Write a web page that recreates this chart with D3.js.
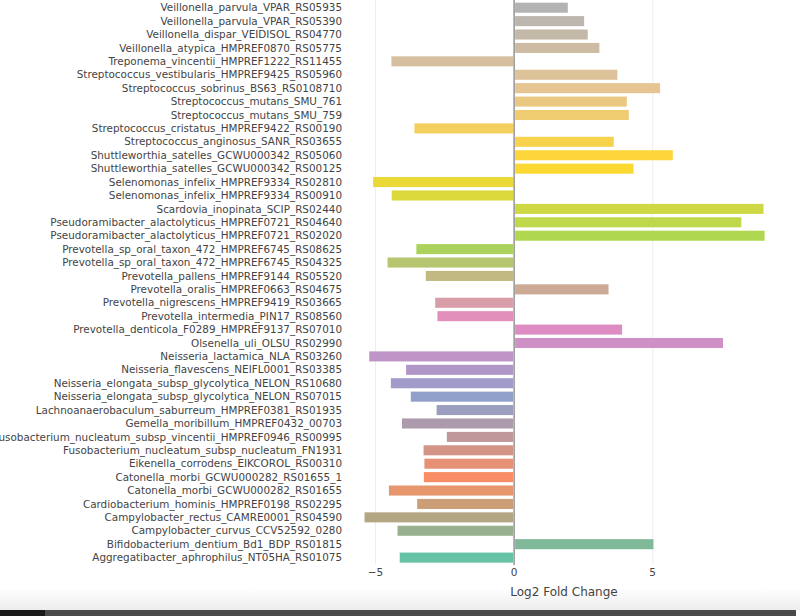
<!DOCTYPE html>
<html>
<head>
<meta charset="utf-8">
<script src="https://cdn.jsdelivr.net/npm/d3@7"></script>
<style>
  html, body { margin: 0; padding: 0; background: #fff; }
  svg { display: block; }
</style>
</head>
<body>
<svg id="chart" width="800" height="616"></svg>
<script>
// Categories listed top to bottom
const categories = [
  "Veillonella_parvula_VPAR_RS05935",
  "Veillonella_parvula_VPAR_RS05390",
  "Veillonella_dispar_VEIDISOL_RS04770",
  "Veillonella_atypica_HMPREF0870_RS05775",
  "Treponema_vincentii_HMPREF1222_RS11455",
  "Streptococcus_vestibularis_HMPREF9425_RS05960",
  "Streptococcus_sobrinus_BS63_RS0108710",
  "Streptococcus_mutans_SMU_761",
  "Streptococcus_mutans_SMU_759",
  "Streptococcus_cristatus_HMPREF9422_RS00190",
  "Streptococcus_anginosus_SANR_RS03655",
  "Shuttleworthia_satelles_GCWU000342_RS05060",
  "Shuttleworthia_satelles_GCWU000342_RS00125",
  "Selenomonas_infelix_HMPREF9334_RS02810",
  "Selenomonas_infelix_HMPREF9334_RS00910",
  "Scardovia_inopinata_SCIP_RS02440",
  "Pseudoramibacter_alactolyticus_HMPREF0721_RS04640",
  "Pseudoramibacter_alactolyticus_HMPREF0721_RS02020",
  "Prevotella_sp_oral_taxon_472_HMPREF6745_RS08625",
  "Prevotella_sp_oral_taxon_472_HMPREF6745_RS04325",
  "Prevotella_pallens_HMPREF9144_RS05520",
  "Prevotella_oralis_HMPREF0663_RS04675",
  "Prevotella_nigrescens_HMPREF9419_RS03665",
  "Prevotella_intermedia_PIN17_RS08560",
  "Prevotella_denticola_F0289_HMPREF9137_RS07010",
  "Olsenella_uli_OLSU_RS02990",
  "Neisseria_lactamica_NLA_RS03260",
  "Neisseria_flavescens_NEIFL0001_RS03385",
  "Neisseria_elongata_subsp_glycolytica_NELON_RS10680",
  "Neisseria_elongata_subsp_glycolytica_NELON_RS07015",
  "Lachnoanaerobaculum_saburreum_HMPREF0381_RS01935",
  "Gemella_moribillum_HMPREF0432_00703",
  "Fusobacterium_nucleatum_subsp_vincentii_HMPREF0946_RS00995",
  "Fusobacterium_nucleatum_subsp_nucleatum_FN1931",
  "Eikenella_corrodens_EIKCOROL_RS00310",
  "Catonella_morbi_GCWU000282_RS01655_1",
  "Catonella_morbi_GCWU000282_RS01655",
  "Cardiobacterium_hominis_HMPREF0198_RS02295",
  "Campylobacter_rectus_CAMRE0001_RS04590",
  "Campylobacter_curvus_CCV52592_0280",
  "Bifidobacterium_dentium_Bd1_BDP_RS01815",
  "Aggregatibacter_aphrophilus_NT05HA_RS01075"
];

const log2FoldChange = [
  1.90, 2.49, 2.62, 3.04, -4.39, 3.69, 5.23, 4.03, 4.10, -3.56,
  3.56, 5.69, 4.27, -5.05, -4.38, 8.96, 8.16, 9.00, -3.49, -4.53,
  -3.15, 3.37, -2.81, -2.73, 3.86, 7.50, -5.19, -3.86, -4.41, -3.69,
  -2.76, -4.01, -2.39, -3.23, -3.20, -3.22, -4.48, -3.46, -5.36, -4.17,
  4.99, -4.09
];

const xTicks = [-5, 0, 5];
const xTickLabels = ["\u22125", "0", "5"];
const xDomain = [-5.92, 9.52];
const axisTitle = "Log2 Fold Change";
const palette = ["#66c2a5", "#fc8d62", "#8da0cb", "#e78ac3", "#a6d854", "#ffd92f", "#e5c494", "#b3b3b3"];

const svg = d3.select("#chart");
const W = 800, H = 616;
const plotLeft = 350, plotRight = 778, plotTop = 1, plotBottom = 564.3;

const x = d3.scaleLinear().domain(xDomain).range([plotLeft, plotRight]);
const y = d3.scaleBand().domain(categories).range([plotTop, plotBottom])
  .paddingInner(0.25).paddingOuter(0.125);

const interp = d3.piecewise(d3.interpolateRgb, palette);
const n = categories.length;
// colour runs from bottom (teal) to top (grey)
const colorOf = i => interp((n - 1 - i) / (n - 1));

// bottom band (screenshot frame)
const defs = svg.append("defs");
const grad = defs.append("linearGradient").attr("id", "bandGrad")
  .attr("x1", 0).attr("y1", 0).attr("x2", 0).attr("y2", 1);
grad.append("stop").attr("offset", "0%").attr("stop-color", "#ffffff");
grad.append("stop").attr("offset", "100%").attr("stop-color", "#ececec");
svg.append("rect").attr("x", 0).attr("y", 588).attr("width", W).attr("height", 22)
  .attr("fill", "url(#bandGrad)");
svg.append("rect").attr("x", 0).attr("y", 610).attr("width", 796).attr("height", 6)
  .attr("fill", "#4a4a4a");
svg.append("rect").attr("x", 0).attr("y", 610).attr("width", 45).attr("height", 6)
  .attr("fill", "#1a1a1a");

// gridlines
svg.append("g").selectAll("line").data(xTicks.filter(t => t !== 0)).join("line")
  .attr("x1", d => x(d)).attr("x2", d => x(d))
  .attr("y1", 0).attr("y2", 564)
  .attr("stroke", "#eeeeee").attr("stroke-width", 1);

// bars
svg.append("g").selectAll("rect").data(categories).join("rect")
  .attr("x", (d, i) => Math.min(x(0), x(log2FoldChange[i])) + (log2FoldChange[i] > 0 ? 1 : -1))
  .attr("y", d => y(d))
  .attr("width", (d, i) => Math.abs(x(log2FoldChange[i]) - x(0)))
  .attr("height", y.bandwidth())
  .attr("fill", (d, i) => colorOf(i));

// zero line
svg.append("line")
  .attr("x1", x(0)).attr("x2", x(0)).attr("y1", 0).attr("y2", 565)
  .attr("stroke", "#7a7a7a").attr("stroke-width", 1.2);

// y labels
svg.append("g").selectAll("text").data(categories).join("text")
  .attr("x", 342)
  .attr("y", d => y(d) + y.bandwidth() / 2)
  .attr("dy", "0.35em")
  .attr("text-anchor", "end")
  .attr("font-family", "DejaVu Sans, Verdana, sans-serif")
  .attr("font-size", 10.4)
  .attr("fill", "#444")
  .text(d => d);

// x tick labels
svg.append("g").selectAll("text").data(xTicks).join("text")
  .attr("x", d => x(d))
  .attr("y", 572)
  .attr("dy", "0.35em")
  .attr("text-anchor", "middle")
  .attr("font-family", "DejaVu Sans, Verdana, sans-serif")
  .attr("font-size", 10.5)
  .attr("fill", "#444")
  .text((d, i) => xTickLabels[i]);

// axis title
svg.append("text")
  .attr("x", (plotLeft + plotRight) / 2)
  .attr("y", 592)
  .attr("dy", "0.35em")
  .attr("text-anchor", "middle")
  .attr("font-family", "DejaVu Sans, Verdana, sans-serif")
  .attr("font-size", 12)
  .attr("fill", "#444")
  .text(axisTitle);
</script>
</body>
</html>
